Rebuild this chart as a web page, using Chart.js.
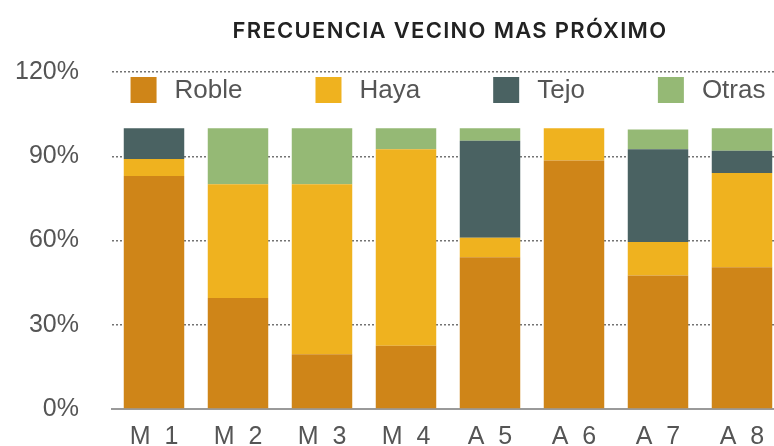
<!DOCTYPE html>
<html>
<head>
<meta charset="utf-8">
<script src="https://cdn.jsdelivr.net/npm/chart.js@4/dist/chart.umd.min.js"></script>
<style>
  html, body { margin: 0; padding: 0; background: #fff; overflow: hidden; }
  #wrap { width: 784px; height: 465px; }
</style>
</head>
<body>
<div id="wrap"><canvas id="c" width="784" height="465"></canvas></div>
<script>
const categories = ["M 1", "M 2", "M 3", "M 4", "A 5", "A 6", "A 7", "A 8"];
const roble = [83, 39.5, 19.5, 22.5, 54, 88.5, 47.5, 50.5];
const haya  = [6, 40.5, 60.5, 70, 7, 11.5, 12, 33.5];
const tejo  = [11, 0, 0, 0, 34.5, 0, 33, 8];
const otras = [0, 20, 20, 7.5, 4.5, 0, 7, 8];
const yTicks = [0, 30, 60, 90, 120];
const chartTitle = "FRECUENCIA VECINO MAS PRÓXIMO";

const FONT = "'Liberation Sans', Arial, sans-serif";
const TITLE_FONT = "Inter, 'Liberation Sans', sans-serif";

const titleAndLegend = {
  id: 'titleAndLegend',
  afterDatasetsDraw(chart, args, opts) {
    const ctx = chart.ctx;
    const area = chart.chartArea;
    const cx = (area.left + area.right) / 2;

    // title
    ctx.save();
    ctx.font = opts.titleWeight + ' ' + opts.titleSize + 'px ' + TITLE_FONT;
    if ('letterSpacing' in ctx) ctx.letterSpacing = opts.titleSpacing + 'px';
    ctx.fillStyle = opts.titleColor;
    ctx.textAlign = 'center';
    ctx.textBaseline = 'alphabetic';
    ctx.fillText(opts.title, cx + opts.titleShift, opts.titleBaseline);
    ctx.restore();

    // legend
    ctx.save();
    ctx.font = opts.fontSize + 'px ' + FONT;
    ctx.textBaseline = 'middle';
    const items = chart.data.datasets.map(d => ({
      text: d.label, color: d.backgroundColor, w: ctx.measureText(d.label).width
    }));
    let total = 0;
    items.forEach((it, i) => {
      total += opts.box + opts.gap + it.w + (i < items.length - 1 ? opts.spacing : 0);
    });
    let x = cx - total / 2;
    const y = area.top + opts.top;
    items.forEach(it => {
      ctx.fillStyle = it.color;
      ctx.fillRect(x, y, opts.box, opts.box);
      ctx.fillStyle = opts.color;
      ctx.fillText(it.text, x + opts.box + opts.gap, y + opts.box / 2 + 1);
      x += opts.box + opts.gap + it.w + opts.spacing;
    });
    ctx.restore();
  }
};

new Chart(document.getElementById('c'), {
  type: 'bar',
  data: {
    labels: categories,
    datasets: [
      { label: 'Roble', data: roble, backgroundColor: '#CF8518' },
      { label: 'Haya',  data: haya,  backgroundColor: '#EFB21F' },
      { label: 'Tejo',  data: tejo,  backgroundColor: '#4A6262' },
      { label: 'Otras', data: otras, backgroundColor: '#95B975' }
    ]
  },
  plugins: [titleAndLegend],
  options: {
    responsive: false,
    animation: false,
    events: [],
    layout: { padding: { left: 0, right: 0, top: 72, bottom: 0 } },
    datasets: { bar: { barPercentage: 0.72, categoryPercentage: 1, borderWidth: 0 } },
    scales: {
      x: {
        stacked: true,
        grid: { display: false, drawTicks: false },
        border: { display: true, color: '#9a9a9a', width: 2 },
        ticks: {
          color: '#555',
          font: { family: FONT, size: 25 },
          padding: 13,
          maxRotation: 0,
          callback: (v, i) => categories[i].replace(' ', '  ')
        }
      },
      y: {
        stacked: true,
        min: 0, max: 120,
        afterBuildTicks: (s) => { s.ticks = yTicks.map(v => ({ value: v })); },
        afterFit: (s) => { s.width = 112; },
        grid: {
          color: (c) => c.tick && c.tick.value === 0 ? 'rgba(0,0,0,0)' : '#737373',
          lineWidth: 1.5,
          drawTicks: false
        },
        border: { display: false, dash: [2, 2] },
        ticks: {
          color: '#555',
          font: { family: FONT, size: 25 },
          padding: 33,
          callback: (v) => v + '%'
        }
      }
    },
    plugins: {
      legend: { display: false },
      tooltip: { enabled: false },
      title: { display: false },
      titleAndLegend: {
        title: chartTitle, titleSize: 22, titleWeight: 600, titleSpacing: 1.3, titleColor: '#222',
        titleBaseline: 37.5, titleShift: 2,
        fontSize: 26, box: 26, gap: 18, spacing: 73, top: 5, color: '#555'
      }
    }
  }
});
</script>
</body>
</html>
